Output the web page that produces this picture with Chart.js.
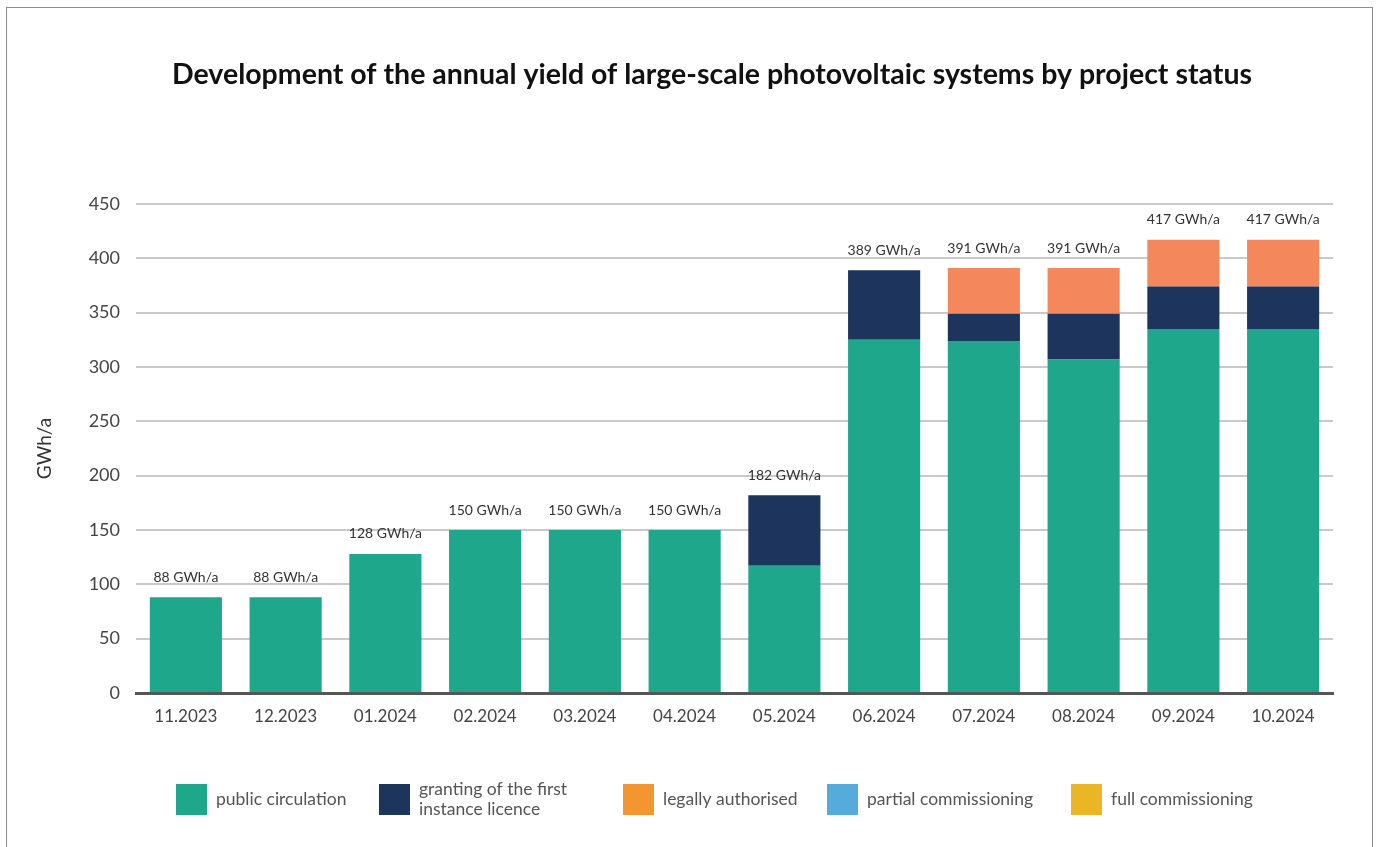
<!DOCTYPE html>
<html>
<head>
<meta charset="utf-8">
<title>Annual yield of large-scale PV systems</title>
<script src="https://cdn.jsdelivr.net/npm/chart.js@4"></script>
<style>
  html, body { margin: 0; padding: 0; background: #fff; overflow: hidden; }
  #frame {
    position: absolute; left: 6px; top: 7px; width: 1367px; height: 900px;
    border: 1.5px solid #8c8c8c; box-sizing: border-box;
  }
  #myChart { position: absolute; left: 0; top: 0; }
</style>
</head>
<body>
<div id="frame"></div>
<canvas id="myChart" width="1383" height="847"></canvas>
<script>
const months = ["11.2023", "12.2023", "01.2024", "02.2024", "03.2024", "04.2024",
  "05.2024", "06.2024", "07.2024", "08.2024", "09.2024", "10.2024"];

// GWh/a per project status
const publicCirculation = [88, 88, 128, 150, 150, 150, 117, 325, 324, 307, 335, 335];
const firstInstance = [0, 0, 0, 0, 0, 0, 65, 64, 25, 42, 39, 39];
const legallyAuthorised = [0, 0, 0, 0, 0, 0, 0, 0, 42, 42, 43, 43];
const partialCommissioning = [0, 0, 0, 0, 0, 0, 0, 0, 0, 0, 0, 0];
const fullCommissioning = [0, 0, 0, 0, 0, 0, 0, 0, 0, 0, 0, 0];

const seriesNames = ["public circulation", "granting of the first\ninstance licence",
  "legally authorised", "partial commissioning", "full commissioning"];
const barColors = ["#1ea78b", "#1d345c", "#f4885c", "#55acdb", "#ebb626"];
const legendColors = ["#1ea78b", "#1d345c", "#f39632", "#55acdb", "#ebb626"];

const yTicks = [0, 50, 100, 150, 200, 250, 300, 350, 400, 450];

const FONT = "Lato, 'Open Sans', sans-serif";
const TITLE = "Development of the annual yield of large-scale photovoltaic systems by project status";

const allSeries = [publicCirculation, firstInstance, legallyAuthorised,
  partialCommissioning, fullCommissioning];

function stackTotal(i) {
  return allSeries.reduce((sum, s) => sum + s[i], 0);
}

// title, totals above the stacks and the legend row underneath
const decorations = {
  id: "decorations",
  afterDatasetsDraw(chart) {
    const { ctx, scales } = chart;
    ctx.save();
    ctx.fillStyle = "#333";
    ctx.font = "14px " + FONT;
    ctx.textAlign = "center";
    ctx.textBaseline = "middle";
    months.forEach((m, i) => {
      const total = stackTotal(i);
      const x = scales.x.getPixelForValue(i);
      const y = scales.y.getPixelForValue(total);
      ctx.fillText(total + " GWh/a", x, y - 20);
    });
    ctx.restore();
  },
  afterDraw(chart) {
    const { ctx } = chart;
    ctx.save();
    ctx.fillStyle = "#111";
    ctx.font = "bold 28.5px " + FONT;
    ctx.textAlign = "center";
    ctx.textBaseline = "middle";
    ctx.fillText(TITLE, 712, 75);

    // legend
    const boxX = [176, 379, 623, 827, 1071];
    const rowY = 799;
    ctx.font = "17.5px " + FONT;
    ctx.textAlign = "left";
    seriesNames.forEach((name, i) => {
      ctx.fillStyle = legendColors[i];
      ctx.fillRect(boxX[i], rowY - 15, 31, 31);
      ctx.fillStyle = "#555";
      const lines = name.split("\n");
      lines.forEach((line, k) => {
        const ly = rowY + (k - (lines.length - 1) / 2) * 20;
        ctx.fillText(line, boxX[i] + 40, ly);
      });
    });
    ctx.restore();
  },
};

const ctx = document.getElementById("myChart").getContext("2d");
const myChart = new Chart(ctx, {
  type: "bar",
  data: {
    labels: months,
    datasets: allSeries.map((values, i) => ({
      label: seriesNames[i].replace("\n", " "),
      data: values,
      backgroundColor: barColors[i],
      borderWidth: 0,
      barPercentage: 0.723,
      categoryPercentage: 1,
    })),
  },
  options: {
    responsive: false,
    animation: false,
    layout: {
      padding: { top: 204, right: 50, bottom: 114, left: 0 },
    },
    plugins: {
      legend: { display: false },
      title: { display: false },
      tooltip: { enabled: false },
    },
    scales: {
      x: {
        stacked: true,
        grid: { display: false },
        border: { display: true, color: "#555", width: 3 },
        ticks: {
          color: "#444",
          font: { family: FONT, size: 17 },
          padding: 5,
          maxRotation: 0,
        },
        afterFit(scale) {
          scale.height = 40;
        },
      },
      y: {
        stacked: true,
        min: 0,
        max: 450,
        afterBuildTicks(scale) {
          scale.ticks = yTicks.map((v) => ({ value: v }));
        },
        grid: {
          drawTicks: false,
          lineWidth: 2,
          color: (c) => (c.tick && c.tick.value === 0 ? "rgba(0,0,0,0)" : "#c9c9c9"),
        },
        border: { display: false },
        ticks: {
          color: "#444",
          font: { family: FONT, size: 18 },
          padding: 16,
        },
        title: {
          display: true,
          text: "GWh/a",
          color: "#333",
          font: { family: FONT, size: 19 },
          padding: { top: 33, bottom: 0 },
        },
        afterFit(scale) {
          scale.width = 136;
        },
      },
    },
  },
  plugins: [decorations],
});
</script>
</body>
</html>
